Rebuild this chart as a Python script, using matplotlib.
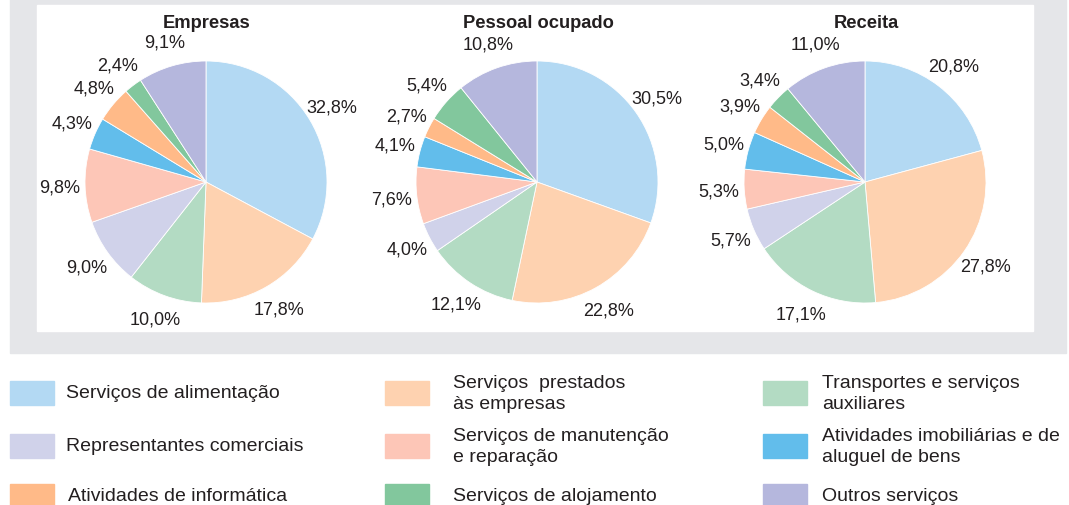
import matplotlib.pyplot as plt
from matplotlib.patches import Rectangle

plt.rcParams['font.family'] = ['Liberation Sans', 'DejaVu Sans']

# slice order, clockwise from the top
sectors = [
    "Serviços de alimentação",
    "Serviços  prestados\nàs empresas",
    "Transportes e serviços\nauxiliares",
    "Representantes comerciais",
    "Serviços de manutenção\ne reparação",
    "Atividades imobiliárias e de\naluguel de bens",
    "Atividades de informática",
    "Serviços de alojamento",
    "Outros serviços",
]
colors = ["#b3d9f3", "#fed2b0", "#b3dbc3", "#d0d2ea", "#fdc6b7",
          "#62bdeb", "#ffba88", "#82c79d", "#b5b7dd"]

titles = ["Empresas", "Pessoal ocupado", "Receita"]
empresas = [32.8, 17.8, 10.0, 9.0, 9.8, 4.3, 4.8, 2.4, 9.1]
pessoal = [30.5, 22.8, 12.1, 4.0, 7.6, 4.1, 2.7, 5.4, 10.8]
receita = [20.8, 27.8, 17.1, 5.7, 5.3, 5.0, 3.9, 3.4, 11.0]
series = [empresas, pessoal, receita]

# legend grid: rows of (sector index) across three columns
legend_rows = [[0, 1, 2], [3, 4, 5], [6, 7, 8]]

W, H = 1069, 506
fig = plt.figure(figsize=(W / 100, H / 100), dpi=100)


def px(x, y):
    return x / W, 1 - y / H


# gray frame and white panel
fig.patches.append(Rectangle((10 / W, 1 - 354 / H), 1056 / W, 354 / H,
                             transform=fig.transFigure, color="#e5e6e9", zorder=-2))
fig.patches.append(Rectangle((37 / W, 1 - 332 / H), 996 / W, 326 / H,
                             transform=fig.transFigure, color="white", zorder=-1))

centers = [206, 537, 865]
cy, r = 183, 121
for cx, title, vals in zip(centers, titles, series):
    ax = fig.add_axes([(cx - r) / W, (H - cy - r) / H, 2 * r / W, 2 * r / H])
    ax.set_zorder(3)
    labels = [f"{v:.1f}%".replace(".", ",") for v in vals]
    wedges, texts = ax.pie(vals, labels=labels, colors=colors, startangle=90,
                           counterclock=False, labeldistance=1.21,
                           wedgeprops=dict(edgecolor="white", linewidth=0.6),
                           textprops=dict(fontsize=13, color="#231f20"))
    for t in texts:
        t.set_ha("center")
        t.set_va("center")
    ax.set_xlim(-1, 1)
    ax.set_ylim(-1, 1)
    ax.set_aspect("equal")
    ax.axis("off")
    fig.text(*px(cx + 1, 23), title, ha="center", va="center",
             fontsize=13.2, fontweight="bold", color="#231f20", zorder=3)

# legend
col_patch_x = [10, 385, 763]
col_text_x = [66, 453, 822]
row_y = [394, 447, 497]
for ri, row in enumerate(legend_rows):
    for ci, idx in enumerate(row):
        x0 = col_patch_x[ci]
        y0 = row_y[ri]
        fig.patches.append(Rectangle((x0 / W, 1 - (y0 + 12) / H), 44 / W, 24 / H,
                                     transform=fig.transFigure,
                                     color=colors[idx], zorder=1))
        fig.text(*px(col_text_x[ci] + (2 if ri == 2 and ci == 0 else 0), y0),
                 sectors[idx], ha="left", va="center", fontsize=14,
                 color="#231f20", linespacing=1.38)

fig.savefig("out.png", dpi=100)
